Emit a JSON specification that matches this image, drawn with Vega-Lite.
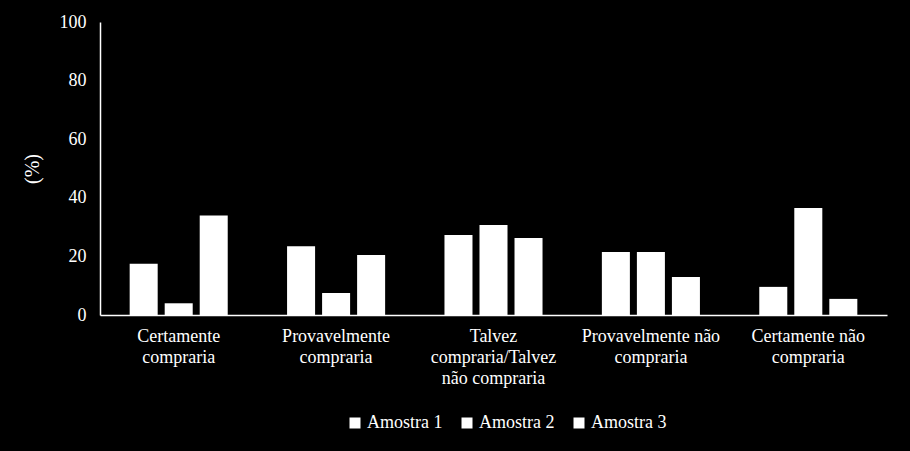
{
  "$schema": "https://vega.github.io/schema/vega-lite/v6.json",
  "autosize": {"type": "none"},
  "width": 787,
  "height": 293,
  "padding": {"left": 100, "top": 22, "right": 23, "bottom": 136},
  "background": "black",
  "config": {
    "view": {"stroke": null},
    "font": "Liberation Serif",
    "axis": {"labelColor": "white", "titleColor": "white", "domainColor": "white", "labelFont": "Liberation Serif", "titleFont": "Liberation Serif", "labelFontSize": 18, "titleFontSize": 20, "grid": false, "ticks": false, "domainWidth": 1.5, "titleFontWeight": "normal"},
    "legend": {"labelColor": "white", "labelFont": "Liberation Serif", "labelFontSize": 18}
  },
  "data": {
    "values": [
      {"categoria": "Certamente compraria", "amostra": "Amostra 1", "valor": 17.5},
      {"categoria": "Certamente compraria", "amostra": "Amostra 2", "valor": 4},
      {"categoria": "Certamente compraria", "amostra": "Amostra 3", "valor": 34},
      {"categoria": "Provavelmente compraria", "amostra": "Amostra 1", "valor": 23.5},
      {"categoria": "Provavelmente compraria", "amostra": "Amostra 2", "valor": 7.5},
      {"categoria": "Provavelmente compraria", "amostra": "Amostra 3", "valor": 20.5},
      {"categoria": "Talvez compraria/Talvez não compraria", "amostra": "Amostra 1", "valor": 27.3},
      {"categoria": "Talvez compraria/Talvez não compraria", "amostra": "Amostra 2", "valor": 30.7},
      {"categoria": "Talvez compraria/Talvez não compraria", "amostra": "Amostra 3", "valor": 26.3},
      {"categoria": "Provavelmente não compraria", "amostra": "Amostra 1", "valor": 21.5},
      {"categoria": "Provavelmente não compraria", "amostra": "Amostra 2", "valor": 21.5},
      {"categoria": "Provavelmente não compraria", "amostra": "Amostra 3", "valor": 13},
      {"categoria": "Certamente não compraria", "amostra": "Amostra 1", "valor": 9.6},
      {"categoria": "Certamente não compraria", "amostra": "Amostra 2", "valor": 36.5},
      {"categoria": "Certamente não compraria", "amostra": "Amostra 3", "valor": 5.5}
    ]
  },
  "mark": {"type": "bar"},
  "encoding": {
    "x": {
      "field": "categoria", "type": "nominal", "sort": null,
      "scale": {"paddingInner": 0.377, "paddingOuter": 0.1885},
      "axis": {
        "title": null, "labelAngle": 0, "labelPadding": 12, "labelLineHeight": 21,
        "labelExpr": "datum.value == 'Certamente compraria' ? ['Certamente','compraria'] : datum.value == 'Provavelmente compraria' ? ['Provavelmente','compraria'] : datum.value == 'Talvez compraria/Talvez não compraria' ? ['Talvez','compraria/Talvez','não compraria'] : datum.value == 'Provavelmente não compraria' ? ['Provavelmente não','compraria'] : ['Certamente não','compraria']"
      }
    },
    "xOffset": {"field": "amostra", "type": "nominal", "scale": {"paddingInner": 0.2, "paddingOuter": 0}},
    "y": {
      "field": "valor", "type": "quantitative",
      "scale": {"domain": [0, 100], "nice": false},
      "axis": {"title": "(%)", "values": [0, 20, 40, 60, 80, 100], "labelPadding": 14, "titlePadding": 17}
    },
    "color": {
      "field": "amostra", "type": "nominal",
      "scale": {"range": ["white", "white", "white"]},
      "legend": {
        "title": null, "orient": "none", "direction": "horizontal",
        "legendX": 246, "legendY": 392,
        "symbolType": "square", "symbolSize": 121, "symbolFillColor": "white", "symbolStrokeWidth": 0,
        "columnPadding": 15, "labelOffset": 3
      }
    }
  }
}
